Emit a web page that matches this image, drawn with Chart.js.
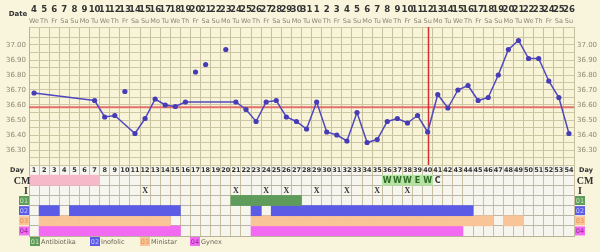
<!DOCTYPE html>
<html>
<head>
<meta charset="utf-8">
<script src="https://cdn.jsdelivr.net/npm/chart.js@4.4.1/dist/chart.umd.min.js"></script>
<style>
  html, body { margin: 0; padding: 0; background: #f9f5dc; }
  #wrap { width: 600px; height: 252px; }
</style>
</head>
<body>
<div id="wrap"><canvas id="bbtChart" width="600" height="252"></canvas></div>
<script>
// cycle days and calendar labels
const days = ['1','2','3','4','5','6','7','8','9','10','11','12','13','14','15','16','17','18','19','20',
  '21','22','23','24','25','26','27','28','29','30','31','32','33','34','35','36','37','38','39','40',
  '41','42','43','44','45','46','47','48','49','50','51','52','53','54'];
const dateLabels = ['4','5','6','7','8','9','10','11','12','13','14','15','16','17','18','19','20','21','22','23',
  '24','25','26','27','28','29','30','31','1','2','3','4','5','6','7','8','9','10','11','12',
  '13','14','15','16','17','18','19','20','21','22','23','24','25','26'];
const weekdayNames = ['We','Th','Fr','Sa','Su','Mo','Tu'];
const tempTicks = ['37.00','36.90','36.80','36.70','36.60','36.50','36.40','36.30'];

// temperatures (null = not recorded / excluded)
const temps = [36.68, null, null, null, null, null, 36.63, 36.52, 36.53, null,
  36.41, 36.51, 36.64, 36.60, 36.59, 36.62, null, null, null, null,
  36.62, 36.57, 36.49, 36.62, 36.63, 36.52, 36.49, 36.44, 36.62, 36.42,
  36.40, 36.36, 36.55, 36.35, 36.37, 36.49, 36.51, 36.48, 36.53, 36.42,
  36.67, 36.58, 36.70, 36.73, 36.63, 36.65, 36.80, 36.97, 37.03, 36.91,
  36.91, 36.76, 36.65, 36.41];
const excludedTemps = [null, null, null, null, null, null, null, null, null, 36.69,
  null, null, null, null, null, null, 36.82, 36.87, null, 36.97];
const coverLine = 36.585;
const ovulationDay = '40';

// table rows
const periodRanges = [[1, 7]];
const fertileCmRanges = [[36, 40]];
const cmDays = [36, 37, 38, 39, 40, 41];
const cmMarks = ['W', 'W', 'W', 'E', 'W', 'C'];
const intercourseDays = [12, 21, 24, 26, 29, 32, 35, 38];
const antibiotikaRanges = [[21, 27]];
const inofolicRanges = [[2, 3], [5, 15], [23, 23], [25, 44]];
const ministarRanges = [[2, 14], [23, 46], [48, 49]];
const gynexRanges = [[2, 15], [23, 43]];

const meds = [
  { code: '01', name: 'Antibiotika', color: '#5f9b5b', text: '#c9e9c1' },
  { code: '02', name: 'Inofolic', color: '#5b5be6', text: '#c9c9ff' },
  { code: '03', name: 'Ministar', color: '#f9c497', text: '#e59050' },
  { code: '04', name: 'Gynex', color: '#f26af2', text: '#9a2a9a' }
];

function rowBars(ranges, row) {
  return days.map(d => {
    const n = Number(d);
    return ranges.some(([a, b]) => n >= a && n <= b) ? [row, row + 1] : null;
  });
}

function barSet(ranges, row, color) {
  return {
    type: 'bar',
    data: rowBars(ranges, row),
    backgroundColor: color,
    borderWidth: 0,
    grouped: false,
    barPercentage: 1,
    categoryPercentage: 1,
    yAxisID: 'rows',
    order: 5
  };
}

const FONT = "'DejaVu Sans', sans-serif";
const COND = "'DejaVu Sans Condensed', 'DejaVu Sans', sans-serif";
const SERIF = "'Liberation Serif', 'DejaVu Serif', serif";

const chartBackground = {
  id: 'chartBackground',
  beforeDraw(chart) {
    const { ctx, chartArea: a, scales } = chart;
    ctx.save();
    ctx.fillStyle = '#f9f5dc';
    ctx.fillRect(0, 0, chart.width, chart.height);
    ctx.fillStyle = '#f8f4d7';
    ctx.fillRect(a.left, scales.y.top, a.width, scales.y.bottom - scales.y.top);
    ctx.fillStyle = '#f6f6ef';
    ctx.fillRect(a.left, scales.rows.top, a.width, scales.rows.bottom - scales.rows.top);
    ctx.restore();
  },
  beforeDatasetsDraw(chart) {
    const { ctx, chartArea: a, scales } = chart;
    const { x, y } = scales;
    ctx.save();
    // cover line
    const cy = y.getPixelForValue(coverLine);
    ctx.strokeStyle = '#e46f6a';
    ctx.lineWidth = 2;
    ctx.beginPath();
    ctx.moveTo(a.left, cy);
    ctx.lineTo(a.right, cy);
    ctx.stroke();
    // ovulation line
    const ox = Math.round(x.getPixelForValue(days.indexOf(ovulationDay))) + 0.5;
    ctx.strokeStyle = '#d42e2e';
    ctx.lineWidth = 1.5;
    ctx.beginPath();
    ctx.moveTo(ox, y.top);
    ctx.lineTo(ox, y.bottom);
    ctx.stroke();
    ctx.restore();
  },
  afterDraw(chart) {
    const { ctx, scales } = chart;
    const { x, y, rows } = scales;
    const rowY = r => rows.getPixelForValue(r + 0.5);
    ctx.save();
    ctx.textBaseline = 'middle';

    // header: dates and weekdays
    ctx.textAlign = 'center';
    ctx.fillStyle = '#333';
    ctx.font = 'bold 7px ' + FONT;
    ctx.fillText('Date', 18, 14);
    ctx.font = 'bold 9.5px ' + COND;
    dateLabels.forEach((d, i) => ctx.fillText(d, x.getPixelForValue(i), 10));
    ctx.font = '6.5px ' + FONT;
    ctx.fillStyle = '#8a8676';
    days.forEach((d, i) => ctx.fillText(weekdayNames[i % 7], x.getPixelForValue(i), 21));

    // temperature labels both sides
    ctx.font = '7px ' + FONT;
    ctx.fillStyle = '#8e8874';
    tempTicks.forEach(t => {
      const py = y.getPixelForValue(parseFloat(t));
      ctx.textAlign = 'right';
      ctx.fillText(t, 26, py);
      ctx.textAlign = 'left';
      ctx.fillText(t, 577, py);
    });

    // day numbers
    ctx.textAlign = 'center';
    ctx.fillStyle = '#333';
    ctx.font = 'bold 6.5px ' + FONT;
    days.forEach((d, i) => ctx.fillText(d, x.getPixelForValue(i), rowY(0)));
    ctx.fillText('Day', 17, rowY(0));
    ctx.fillText('Day', 586, rowY(0));

    // CM / I labels
    ctx.font = 'bold 10px ' + SERIF;
    ctx.fillText('CM', 22, rowY(1) + 1);
    ctx.fillText('CM', 585, rowY(1) + 1);
    ctx.fillText('I', 26, rowY(2) + 1);
    ctx.fillText('I', 580, rowY(2) + 1);

    // CM marks
    ctx.font = 'bold 8px ' + FONT;
    cmDays.forEach((d, i) => {
      ctx.fillStyle = cmMarks[i] === 'C' ? '#333' : '#2f6a2b';
      ctx.fillText(cmMarks[i], x.getPixelForValue(d - 1), rowY(1) + 0.5);
    });
    // intercourse marks
    ctx.fillStyle = '#333';
    ctx.font = 'bold 8px ' + SERIF;
    intercourseDays.forEach(d => ctx.fillText('X', x.getPixelForValue(d - 1), rowY(2) + 0.5));

    // medication row labels
    ctx.font = '6.5px ' + FONT;
    meds.forEach((m, i) => {
      const py = rowY(3 + i);
      [19, 575].forEach(bx => {
        ctx.fillStyle = m.color;
        ctx.fillRect(bx, py - 4.5, 10, 9);
        ctx.fillStyle = m.text;
        ctx.fillText(m.code, bx + 5, py + 0.5);
      });
    });

    // legend
    const legendX = [30, 90, 140, 190];
    const ly = 241.5;
    meds.forEach((m, i) => {
      const bx = legendX[i];
      ctx.fillStyle = m.color;
      ctx.fillRect(bx, ly - 4.5, 10, 9);
      ctx.textAlign = 'center';
      ctx.fillStyle = m.text;
      ctx.fillText(m.code, bx + 5, ly + 0.5);
      ctx.textAlign = 'left';
      ctx.fillStyle = '#6a6658';
      ctx.fillText(m.name, bx + 11, ly + 0.5);
    });
    ctx.restore();
  }
};

new Chart(document.getElementById('bbtChart'), {
  data: {
    labels: days,
    datasets: [
      {
        type: 'line',
        data: temps,
        yAxisID: 'y',
        spanGaps: true,
        borderColor: '#5148c0',
        borderWidth: 1.5,
        pointRadius: 2.6,
        pointBackgroundColor: '#463cb5',
        pointBorderColor: '#463cb5',
        pointBorderWidth: 0,
        segment: {
          borderDash: ctx => (ctx.p1DataIndex - ctx.p0DataIndex > 1 ? [3, 2] : []),
          borderColor: ctx => (ctx.p1DataIndex - ctx.p0DataIndex > 1 ? '#85859a' : '#5148c0'),
          borderWidth: ctx => (ctx.p1DataIndex - ctx.p0DataIndex > 1 ? 1 : 1.5)
        },
        order: 1
      },
      {
        type: 'line',
        data: excludedTemps,
        yAxisID: 'y',
        showLine: false,
        pointRadius: 2.6,
        pointBackgroundColor: '#463cb5',
        pointBorderColor: '#463cb5',
        pointBorderWidth: 0,
        order: 2
      },
      barSet(periodRanges, 1, '#f5b9c9'),
      barSet(fertileCmRanges, 1, '#b5e3a1'),
      barSet(antibiotikaRanges, 3, meds[0].color),
      barSet(inofolicRanges, 4, meds[1].color),
      barSet(ministarRanges, 5, meds[2].color),
      barSet(gynexRanges, 6, meds[3].color)
    ]
  },
  options: {
    responsive: false,
    animation: false,
    layout: { padding: { left: 29, right: 26, top: 27, bottom: 16 } },
    plugins: { legend: { display: false }, tooltip: { enabled: false } },
    scales: {
      x: {
        type: 'category',
        offset: true,
        grid: { offset: true, color: '#c6c0a0', drawTicks: false },
        border: { color: '#b8b29a' },
        ticks: { display: false }
      },
      rows: {
        type: 'linear',
        position: 'left',
        stack: 'main',
        stackWeight: 71,
        min: 0,
        max: 7,
        reverse: true,
        grid: { color: '#b9b6a8', drawTicks: false },
        border: { color: '#b8b29a' },
        ticks: { display: false, stepSize: 1 }
      },
      y: {
        type: 'linear',
        position: 'left',
        stack: 'main',
        stackWeight: 138,
        min: 36.2,
        max: 37.12,
        grid: { color: '#cdc7a6', drawTicks: false },
        border: { color: '#b8b29a' },
        ticks: { display: false, stepSize: 0.05 }
      }
    }
  },
  plugins: [chartBackground]
});
</script>
</body>
</html>
